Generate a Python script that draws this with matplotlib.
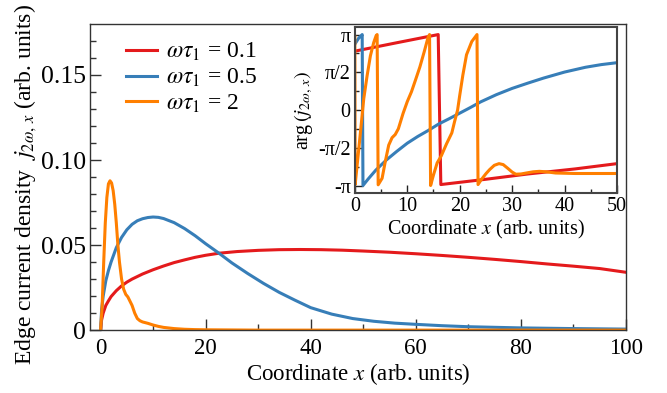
import matplotlib.pyplot as plt
import numpy as np

plt.rcParams['font.family'] = ['Liberation Serif', 'DejaVu Serif']
plt.rcParams['mathtext.fontset'] = 'stix'

red_c = '#e41a1c'
blue_c = '#377eb8'
orange_c = '#ff7f00'

labels = [r'$\omega\tau_{\mathit{1}}$ = 0.1', r'$\omega\tau_{\mathit{1}}$ = 0.5', r'$\omega\tau_{\mathit{1}}$ = 2']

# main panel: edge current density
red_x = [0, 0.2, 0.5, 1, 1.5, 2, 3, 4, 5, 6, 8, 10, 12, 14, 16, 18, 20, 22.5, 26, 30, 34, 38,
         42, 46, 50, 55, 60, 65, 70, 75, 80, 85, 90, 95, 100]
red_y = [0, 0.006, 0.0100, 0.0145, 0.0172, 0.0197, 0.0232, 0.0260, 0.0282, 0.0300, 0.0330, 0.0355,
         0.0377, 0.0397, 0.0413, 0.0428, 0.0440, 0.0452, 0.0462, 0.0469, 0.0473, 0.0474,
         0.0473, 0.0470, 0.0465, 0.0458, 0.0449, 0.0439, 0.0428, 0.0416, 0.0403, 0.0389, 0.0376, 0.0362, 0.0340]

blue_x = [0, 0.2, 0.5, 1, 1.5, 2, 3, 4, 5, 6, 7, 8, 9, 10, 11, 12, 14, 16, 18, 20, 22.5, 25, 28,
          31, 34, 37, 40, 44, 48, 52, 56, 60, 65, 70, 80, 90, 100]
blue_y = [0, 0.012, 0.020, 0.029, 0.035, 0.040, 0.0485, 0.0545, 0.0590, 0.0622, 0.0643, 0.0655,
          0.0662, 0.0665, 0.0663, 0.0656, 0.0632, 0.0597, 0.0555, 0.0508, 0.0453, 0.0395, 0.0333,
          0.0275, 0.0222, 0.0176, 0.0132, 0.0094, 0.0068, 0.0052, 0.0041, 0.0034, 0.0026, 0.0020,
          0.0013, 0.0009, 0.0006]

orange_x = [0, 0.3, 0.6, 0.9, 1.2, 1.5, 1.8, 2.1, 2.4, 2.7, 3.0, 3.3, 3.6, 4.0, 4.4, 4.8, 5.2,
            5.6, 6.0, 6.5, 7.0, 7.5, 8.0, 9.0, 10, 11, 12, 14, 16, 18, 20, 25, 30, 40, 100]
orange_y = [0, 0.014, 0.040, 0.063, 0.078, 0.086, 0.0878, 0.0865, 0.082, 0.074, 0.063, 0.050,
            0.040, 0.030, 0.024, 0.021, 0.0195, 0.017, 0.0145, 0.010, 0.0068, 0.0055, 0.0048,
            0.0040, 0.0030, 0.0022, 0.0016, 0.0009, 0.0005, 0.0003, 0.0002, 0.0001, 0, 0, 0]

# inset: phase of the current
red_ix = [0, 8, 15.9, 16.4, 25, 33, 42, 50]
red_iy = [2.45, 2.80, 3.14, -3.10, -2.88, -2.66, -2.45, -2.23]

blue_ix = [0, 0.7, 1.4, 1.55, 2.5, 4, 6, 8, 10, 12, 14, 16, 18, 20, 22, 24, 27, 30, 33, 36,
           40, 44, 47, 50]
blue_iy = [2.74, 2.98, 3.14, -3.14, -2.88, -2.5, -2.08, -1.72, -1.38, -1.1, -0.85, -0.58,
           -0.36, -0.13, 0.1, 0.34, 0.64, 0.9, 1.12, 1.33, 1.58, 1.78, 1.89, 1.97]

orange_ix = [0, 0.06, 0.44, 1.08, 1.7, 2.34, 2.97, 3.6, 4.05, 4.25, 4.45, 5.2, 5.8, 6.46, 7.1,
             7.7, 8.3, 9.2, 10, 10.8, 11.6, 12.4, 13.2, 14.0, 14.25, 14.45, 15, 15.7, 16.5,
             17.5, 18.5, 19.0, 19.6, 20.0, 20.6, 21.3, 22.3, 23.3, 23.5, 24.1, 25, 25.7, 26.6,
             27.5, 28.3, 29.2, 30, 30.7, 31.7, 32.7, 34, 35.2, 36.5, 38.3, 42, 46, 50]
orange_iy = [3.05, -3.1, -2.29, -0.9, 0.47, 1.43, 2.26, 2.81, 3.09, 3.14, -3.11, -2.84, -2.15,
             -1.46, -1.15, -1.02, -0.78, -0.14, 0.35, 0.76, 1.27, 1.79, 2.4, 3.05, 3.14, -3.14,
             -2.7, -2.2, -1.9, -1.4, -0.95, -0.5, 0, 0.6, 1.45, 2.3, 2.85, 3.14, -3.1, -2.9,
             -2.65, -2.48, -2.3, -2.23, -2.27, -2.43, -2.58, -2.67, -2.66, -2.62, -2.57, -2.55,
             -2.57, -2.62, -2.64, -2.64, -2.64]

fig = plt.figure(figsize=(6.67, 3.93), dpi=100)
ax = fig.add_axes([0.135, 0.160, 0.8035, 0.779])

lw = 2.2
ax.plot(red_x, red_y, color=red_c, lw=lw, label=labels[0])
ax.plot(blue_x, blue_y, color=blue_c, lw=lw, label=labels[1])
ax.plot(orange_x, orange_y, color=orange_c, lw=lw, label=labels[2])

ax.set_xlim(-2, 100)
ax.set_ylim(0, 0.18)
ax.set_xticks([0, 20, 40, 60, 80, 100])
ax.set_xticks(np.arange(10, 100, 20), minor=True)
ax.set_yticks([0, 0.05, 0.10, 0.15], ['0', '0.05', '0.10', '0.15'])
ax.set_yticks(np.arange(0.01, 0.18, 0.01), minor=True)
ax.tick_params(axis='both', which='both', direction='in', top=False, right=False, color='#333333')
ax.tick_params(axis='both', which='major', length=8, width=1.0)
ax.tick_params(axis='both', which='minor', length=4.5, width=1.0)
ax.tick_params(axis='x', which='major', labelsize=16.5, pad=6)
ax.tick_params(axis='y', which='major', labelsize=18.5, pad=3)
for s in ax.spines.values():
    s.set_color('#333333')
    s.set_linewidth(1.0)

ax.set_xlabel(r'Coordinate $x$ (arb. units)', fontsize=16.5, labelpad=1)
ax.set_ylabel(r'Edge current density  $j_{\mathit{2\omega,\,x}}$ (arb. units)', fontsize=17)
ax.yaxis.set_label_coords(-0.095, 0.475)

ax.legend(loc='upper left', bbox_to_anchor=(0.05, 0.975), frameon=False, fontsize=17,
          handlelength=1.3, handletextpad=0.4, labelspacing=0.15, borderaxespad=0)

# inset
ins = fig.add_axes([0.532, 0.509, 0.393, 0.422])
ins.set_facecolor('white')
ins.plot(red_ix, red_iy, color=red_c, lw=lw)
ins.plot(blue_ix, blue_iy, color=blue_c, lw=lw)
ins.plot(orange_ix, orange_iy, color=orange_c, lw=lw)
ins.set_xlim(0, 50)
ins.set_ylim(-3.45, 3.45)
ins.set_xticks([0, 10, 20, 30, 40, 50])
ins.set_xticks([5, 15, 25, 35, 45], minor=True)
ins.set_yticks([-np.pi, -np.pi / 2, 0, np.pi / 2, np.pi], ['-π', '-π/2', '0', 'π/2', 'π'])
ins.set_yticks([-3 * np.pi / 4, -np.pi / 4, np.pi / 4, 3 * np.pi / 4], minor=True)
ins.tick_params(axis='both', which='both', direction='in', top=False, right=False, color='#222222')
ins.tick_params(axis='both', which='major', length=6, width=1.0, labelsize=14.5, pad=3)
ins.tick_params(axis='both', which='minor', length=3, width=1.0)
for s in ins.spines.values():
    s.set_color('#444444')
    s.set_linewidth(1.5)
ins.set_xlabel(r'Coordinate $x$ (arb. units)', fontsize=14.5, labelpad=1)
ins.set_ylabel(r'arg$\,(j_{\mathit{2\omega,\,x}})$', fontsize=14.5, labelpad=2)

fig.savefig('out.png', dpi=100)
